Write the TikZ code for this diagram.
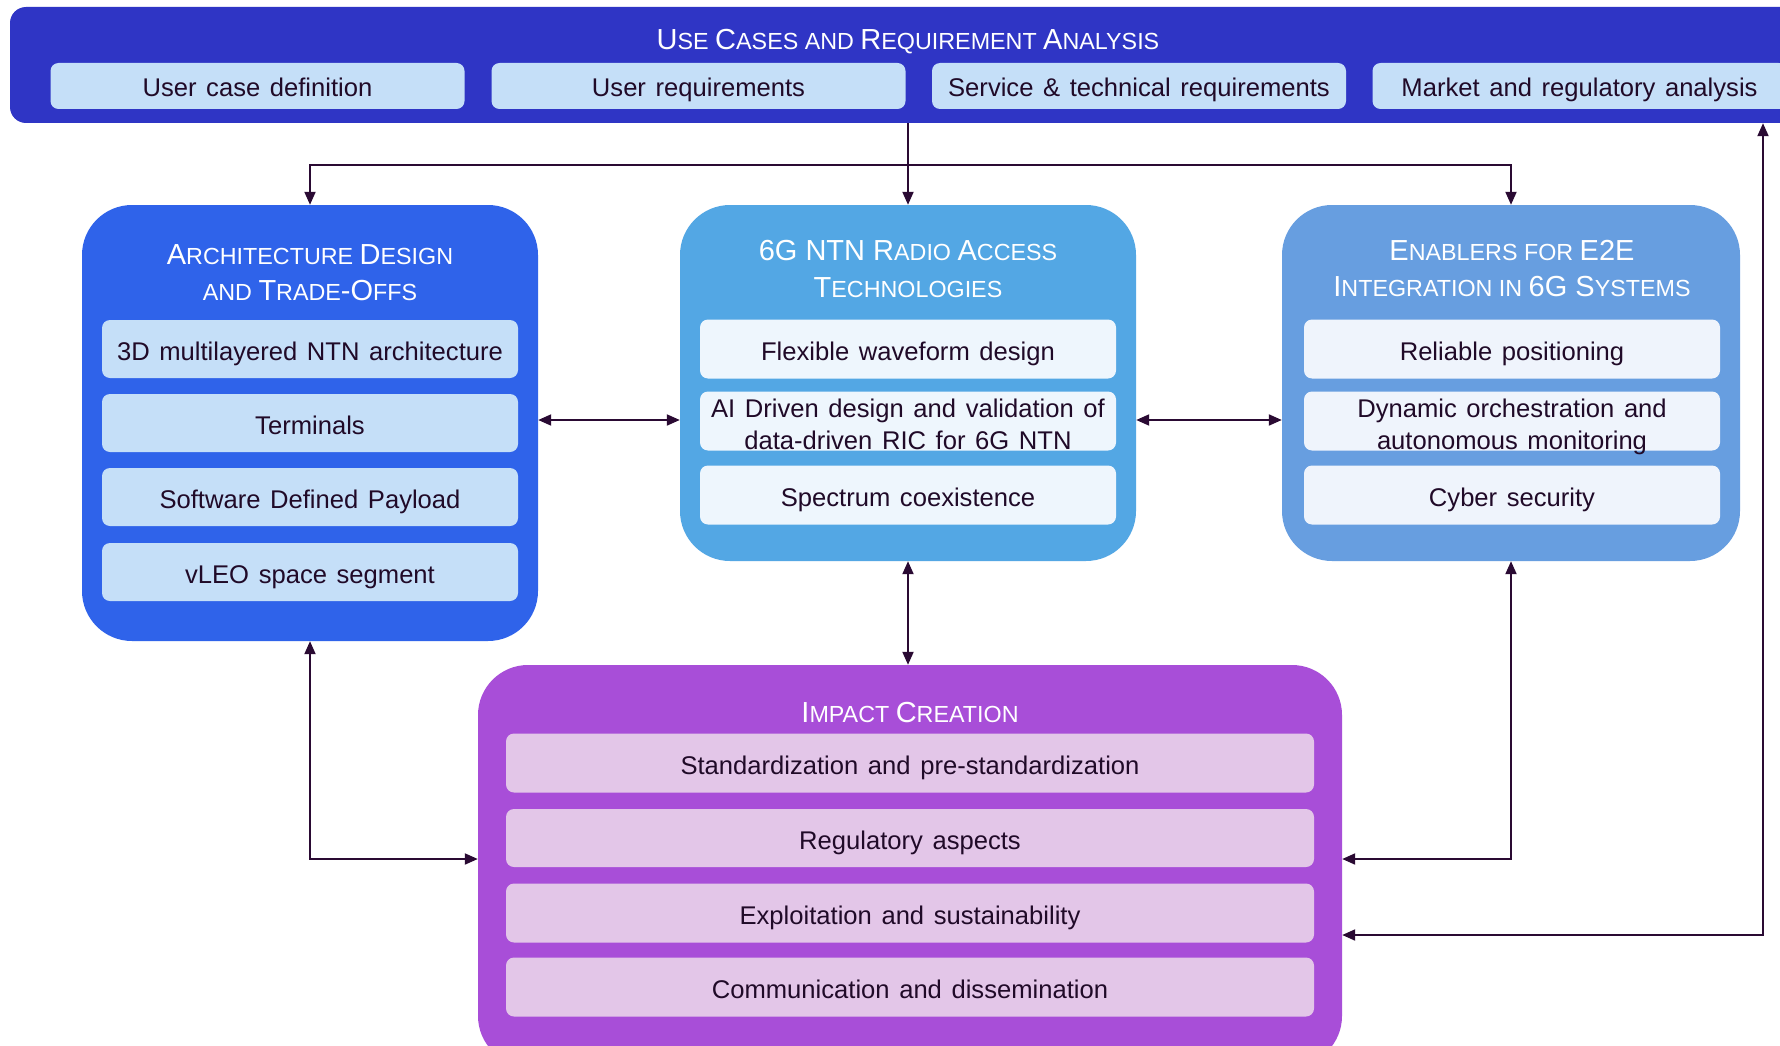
\documentclass[tikz,border=0pt]{standalone}
\usepackage{fontspec}
\setmainfont{Liberation Sans}
\newfontfamily\subfont[WordSpace=1.35]{Liberation Sans}
\usetikzlibrary{arrows.meta}
\definecolor{bannerC}{HTML}{2F35C5}
\definecolor{lightblueC}{HTML}{C5DFF8}
\definecolor{archC}{HTML}{2F63EA}
\definecolor{radioC}{HTML}{53A7E4}
\definecolor{radiosubC}{HTML}{EEF6FD}
\definecolor{enabC}{HTML}{679EE0}
\definecolor{enabsubC}{HTML}{EFF4FC}
\definecolor{impactC}{HTML}{A84ED8}
\definecolor{impactsubC}{HTML}{E3C6E8}
\definecolor{txtC}{HTML}{200A28}
\definecolor{arrowC}{HTML}{2A0A33}
\newcommand\tsc[2]{{\fontsize{29}{29}\selectfont #1}{\fontsize{23.3}{23.3}\selectfont #2}}
\begin{document}
\begin{tikzpicture}[x=1pt,y=-1pt,
  container/.style={rounded corners=50pt, inner sep=0pt, draw=none},
  subbox/.style={rounded corners=8pt, inner sep=0pt, draw=none, text=txtC,
    font=\subfont\fontsize{25.6}{32}\selectfont, text height=22pt, text depth=0pt},
  subtxt/.style={inner sep=0pt, text=txtC, font=\subfont\fontsize{25.6}{32}\selectfont},
  ttl/.style={inner sep=0pt, text=white, anchor=base, font=\fontsize{23.3}{28}\selectfont},
  conn/.style={draw=arrowC, line width=2pt},
  >={Triangle[length=13pt,width=11pt]}]
\useasboundingbox (0,0) rectangle (1780,1046);
\fill[white] (0,0) rectangle (1780,1046);
\clip (0,0) rectangle (1780,1046);

% banner
\node[fill=bannerC, rounded corners=16pt, inner sep=0pt, minimum width=1790pt, minimum height=116pt] (banner) at (905,65) {};
\node[ttl] (bannerT) at (908,50) {\tsc{U}{SE} \tsc{C}{ASES} \tsc{}{AND} \tsc{R}{EQUIREMENT} \tsc{A}{NALYSIS}};
\node[subbox, fill=lightblueC, minimum width=414pt, minimum height=46pt] (b1) at (257.5,86) {User case definition};
\node[subbox, fill=lightblueC, minimum width=414pt, minimum height=46pt] (b2) at (698.5,86) {User requirements};
\node[subbox, fill=lightblueC, minimum width=414pt, minimum height=46pt] (b3) at (1139,86) {Service \& technical requirements};
\node[subbox, fill=lightblueC, minimum width=414pt, minimum height=46pt] (b4) at (1579.5,86) {Market and regulatory analysis};

% architecture
\node[container, fill=archC, minimum width=456pt, minimum height=436pt] (arch) at (310,423) {};
\node[ttl] (archT1) at (310,264) {\tsc{A}{RCHITECTURE} \tsc{D}{ESIGN}};
\node[ttl] (archT2) at (310,300) {\tsc{}{AND} \tsc{T}{RADE}\tsc{-O}{FFS}};
\node[subbox, fill=lightblueC, minimum width=416pt, minimum height=58pt] (a1) at (310,349) {3D multilayered NTN architecture};
\node[subbox, fill=lightblueC, minimum width=416pt, minimum height=58pt] (a2) at (310,423) {Terminals};
\node[subbox, fill=lightblueC, minimum width=416pt, minimum height=58pt] (a3) at (310,497) {Software Defined Payload};
\node[subbox, fill=lightblueC, minimum width=416pt, minimum height=58pt] (a4) at (310,572) {vLEO space segment};

% radio access
\node[container, fill=radioC, minimum width=456pt, minimum height=356pt] (radio) at (908,383) {};
\node[ttl] (radioT1) at (908,260) {\tsc{6G NTN R}{ADIO} \tsc{A}{CCESS}};
\node[ttl] (radioT2) at (908,297) {\tsc{T}{ECHNOLOGIES}};
\node[subbox, fill=radiosubC, minimum width=416pt, minimum height=59pt] (r1) at (908,349) {Flexible waveform design};
\node[subbox, fill=radiosubC, minimum width=416pt, minimum height=59pt] (r2) at (908,421) {};
\node[subtxt, anchor=base] (r2a) at (908,417) {AI Driven design and validation of};
\node[subtxt, anchor=base] (r2b) at (908,449) {data-driven RIC for 6G NTN};
\node[subbox, fill=radiosubC, minimum width=416pt, minimum height=59pt] (r3) at (908,495) {Spectrum coexistence};

% enablers
\node[container, fill=enabC, minimum width=458pt, minimum height=356pt] (enab) at (1511,383) {};
\node[ttl] (enabT1) at (1512,260) {\tsc{E}{NABLERS} \tsc{}{FOR} \tsc{E2E}{}};
\node[ttl] (enabT2) at (1512,296) {\tsc{I}{NTEGRATION} \tsc{}{IN} \tsc{6G S}{YSTEMS}};
\node[subbox, fill=enabsubC, minimum width=416pt, minimum height=59pt] (e1) at (1512,349) {Reliable positioning};
\node[subbox, fill=enabsubC, minimum width=416pt, minimum height=59pt] (e2) at (1512,421) {};
\node[subtxt, anchor=base] (e2a) at (1512,417) {Dynamic orchestration and};
\node[subtxt, anchor=base] (e2b) at (1512,449) {autonomous monitoring};
\node[subbox, fill=enabsubC, minimum width=416pt, minimum height=59pt] (e3) at (1512,495) {Cyber security};

% impact
\node[container, fill=impactC, minimum width=864pt, minimum height=401pt] (impact) at (910,865.5) {};
\node[ttl] (impactT) at (910,722.7) {\tsc{I}{MPACT} \tsc{C}{REATION}};
\node[subbox, fill=impactsubC, minimum width=808pt, minimum height=59pt] (i1) at (910,763) {Standardization and pre-standardization};
\node[subbox, fill=impactsubC, minimum width=808pt, minimum height=58pt] (i2) at (910,838) {Regulatory aspects};
\node[subbox, fill=impactsubC, minimum width=808pt, minimum height=59pt] (i3) at (910,913) {Exploitation and sustainability};
\node[subbox, fill=impactsubC, minimum width=808pt, minimum height=59pt] (i4) at (910,987) {Communication and dissemination};

% connectors
\coordinate (split) at (908,165);
\coordinate (hrow) at (0,420);
\coordinate (lowrow) at (0,859);
\coordinate (lowrow2) at (1763,935);
\draw[conn,->] (banner.south -| radio.north) -- (radio.north);
\draw[conn,->] (split) -| (arch.north);
\draw[conn,->] (split) -| (enab.north);
\draw[conn,<->] (arch.east |- hrow) -- (radio.west |- hrow);
\draw[conn,<->] (radio.east |- hrow) -- (enab.west |- hrow);
\draw[conn,<->] (radio.south) -- (radio.south |- impact.north);
\draw[conn,<->] (arch.south) |- (impact.west |- lowrow);
\draw[conn,<->] (enab.south) |- (impact.east |- lowrow);
\draw[conn,<->] (banner.south -| lowrow2) |- (impact.east |- lowrow2);
\end{tikzpicture}
\end{document}
